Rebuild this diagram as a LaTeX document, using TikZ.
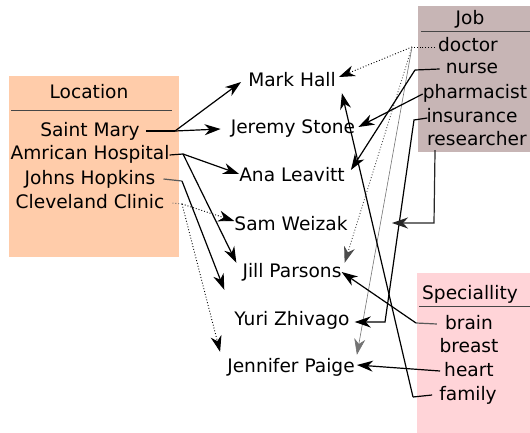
\documentclass[tikz,border=0pt]{standalone}
\usepackage{fontspec}
\newfontfamily\djfont{DejaVu Sans}
\usetikzlibrary{arrows.meta}
\definecolor{locfill}{RGB}{255,204,170}
\definecolor{jobfill}{RGB}{199,181,181}
\definecolor{specfill}{RGB}{255,212,216}
\definecolor{tlinecol}{RGB}{70,70,70}
\begin{document}
\begin{tikzpicture}[x=1pt,y=-1pt,
  txt/.style={font=\djfont\fontsize{18.6}{22}\selectfont, inner sep=0pt, anchor=base, text height=14pt, text depth=4pt, text=black},
  ln/.style={line width=1.2pt, black},
  lngray/.style={line width=1.2pt, black!65},
  tip/.style={-{Stealth[length=16pt,width=11pt,inset=5pt]}},
  arr/.style={line width=1.2pt, black, tip},
  dotln/.style={line width=0.9pt, dotted, black},
  dotarr/.style={line width=0.9pt, dotted, black, tip},
  tline/.style={line width=1pt, tlinecol}
]
\useasboundingbox (0,0) rectangle (530,433);
% boxes
\fill[locfill] (9,76) rectangle (179,257);
\fill[jobfill] (418,6) rectangle (530,152);
\fill[specfill] (417,273) rectangle (530,433);
\draw[tline] (11,111) -- (172,111);
\draw[tline] (421,32) -- (530,32);
\draw[tline] (419,306) -- (530,306);
% location
\node[txt] (loc) at (89,99) {Location};
\node[txt] (sm) at (90,136) {Saint Mary};
\node[txt] (ah) at (90,160) {Amrican Hospital};
\node[txt] (jh) at (90,184) {Johns Hopkins};
\node[txt] (cc) at (90,208) {Cleveland Clinic};
% job
\node[txt] (job) at (470,25) {Job};
\node[txt] (doc) at (468,52) {doctor};
\node[txt] (nur) at (472,74) {nurse};
\node[txt] (pha) at (475,99) {pharmacist};
\node[txt] (ins) at (472,123) {insurance};
\node[txt] (res) at (477,146) {researcher};
% speciality
\node[txt] (spc) at (470,299) {Speciallity};
\node[txt] (bra) at (469,329) {brain};
\node[txt] (bre) at (469,352) {breast};
\node[txt] (hea) at (469,376) {heart};
\node[txt] (fam) at (468,400) {family};
% people
\node[txt] (mark) at (292,87) {Mark Hall};
\node[txt] (jer) at (293,134) {Jeremy Stone};
\node[txt] (ana) at (292,182) {Ana Leavitt};
\node[txt] (sam) at (291,230) {Sam Weizak};
\node[txt] (jill) at (292,277) {Jill Parsons};
\node[txt] (yuri) at (292,325) {Yuri Zhivago};
\node[txt] (jen) at (291,372) {Jennifer Paige};
% junctions
\coordinate (smj) at (175,131);
\coordinate (ahj) at (183,154);
\coordinate (jhj) at (182,181);
\coordinate (ccj) at (182,204);
\coordinate (drj) at (412,47);
\coordinate (nuj) at (415,70);
\coordinate (insj) at (414,120);
\coordinate (insk) at (385,322);
\coordinate (resj) at (434,223);
\coordinate (rtip) at (392,223);
\coordinate (brj) at (416,323);
\coordinate (faj) at (413,397);
% location edges
\draw[ln] ([xshift=6pt]sm.east) -- (smj);
\draw[arr] (smj) -- ([xshift=-7pt]mark.west);
\draw[arr] (smj) -- ([xshift=-10pt]jer.west);
\draw[ln] (ah.east) -- (ahj);
\draw[arr] (ahj) -- ([yshift=3pt]ana.west);
\draw[arr] (ahj) -- ([xshift=-6pt]jill.north west);
\draw[lngray] ([xshift=8pt]jh.east) -- (jhj);
\draw[arr] (jhj) -- ([xshift=-10pt,yshift=21pt]yuri.north west);
\draw[dotln, black!60] ([xshift=8pt]cc.east) -- (ccj);
\draw[dotarr] (ccj) -- ([yshift=4pt]sam.west);
\draw[dotarr] (ccj) -- ([xshift=-7pt,yshift=6pt]jen.north west);
% job edges
\draw[dotln] ([xshift=-3pt]doc.west) -- (drj);
\draw[dotarr] (drj) -- ([xshift=3pt,yshift=5pt]mark.east);
\draw[dotarr, black!70] (drj) -- ([xshift=3pt]jill.north east);
\draw[arr, line width=0.6pt, black!55] (drj) -- ([xshift=2pt,yshift=3pt]jen.north east);
\draw[ln] ([xshift=-6pt]nur.west) -- (nuj);
\draw[arr] (nuj) -- ([xshift=6pt,yshift=7pt]ana.east);
\draw[arr] (pha.west) -- ([xshift=3pt,yshift=2pt]jer.east);
\draw[arr] ([xshift=1pt]ins.west) -- (insj) -- (insk) -- ([xshift=5pt,yshift=-2pt]yuri.east);
\draw[arr, black!85] ([xshift=8pt]res.south west) -- (resj) -- (rtip);
% speciality edges
\draw[lngray] ([xshift=-8pt]bra.west) -- (brj);
\draw[arr] (brj) -- (jill.east);
\draw[arr] ([xshift=-4pt]hea.west) -- ([xshift=2pt,yshift=2pt]jen.east);
\draw[ln] ([xshift=-7pt]fam.west) -- (faj);
\draw[arr] (faj) -- ([xshift=6pt,yshift=-2pt]mark.south east);
\end{tikzpicture}
\end{document}
